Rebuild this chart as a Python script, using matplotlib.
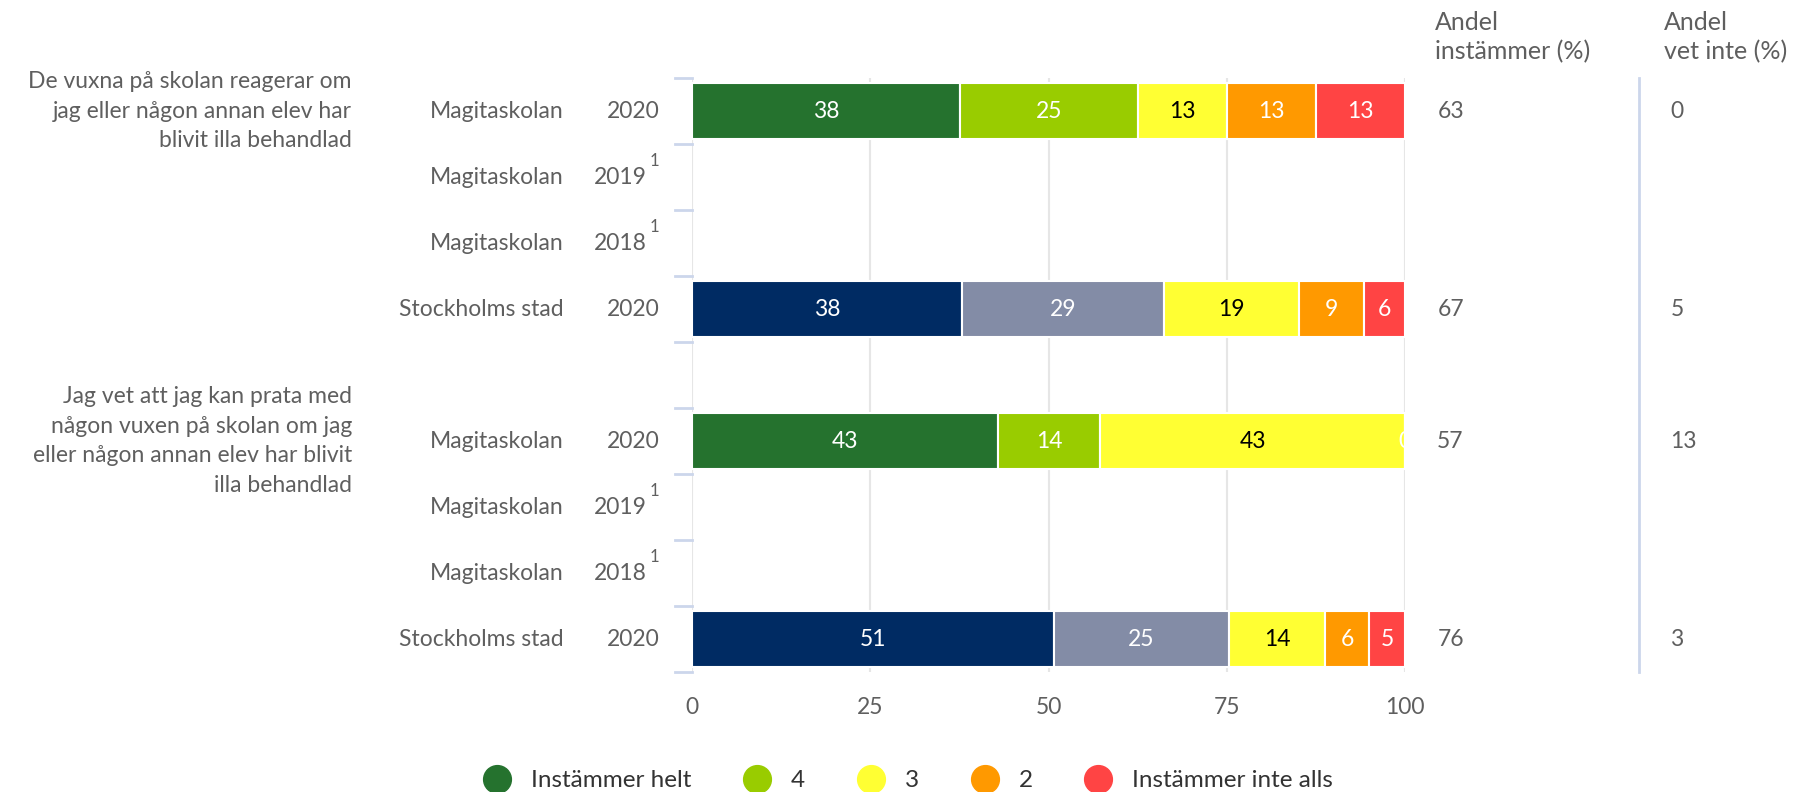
import matplotlib.pyplot as plt
from matplotlib.lines import Line2D

plt.rcParams['font.family'] = ['Lato', 'DejaVu Sans']

# Data
questions = [
    "De vuxna på skolan reagerar om\njag eller någon annan elev har\nblivit illa behandlad",
    "Jag vet att jag kan prata med\nnågon vuxen på skolan om jag\neller någon annan elev har blivit\nilla behandlad",
]
units = ["Magitaskolan", "Magitaskolan", "Magitaskolan", "Stockholms stad"]
years = ["2020", "2019", "2018", "2020"]
footnote = [False, True, True, False]

categories = ["Instämmer helt", "4", "3", "2", "Instämmer inte alls"]
school_colors = ["#25722e", "#99cc00", "#ffff33", "#ff9900", "#ff4444"]
city_colors = ["#002b63", "#838ca6", "#ffff33", "#ff9900", "#ff4444"]

q1_school_2020 = [37.5, 25.0, 12.5, 12.5, 12.5]
q1_school_2020_lbl = ["38", "25", "13", "13", "13"]
q1_city_2020 = [37.8, 28.4, 18.9, 9.1, 5.8]
q1_city_2020_lbl = ["38", "29", "19", "9", "6"]
q2_school_2020 = [42.9, 14.3, 42.8, 0.0, 0.0]
q2_school_2020_lbl = ["43", "14", "43", "0", ""]
q2_city_2020 = [50.7, 24.6, 13.5, 6.1, 5.1]
q2_city_2020_lbl = ["51", "25", "14", "6", "5"]

andel_instammer = [["63", "", "", "67"], ["57", "", "", "76"]]
andel_vet_inte = [["0", "", "", "5"], ["13", "", "", "3"]]

text_col = "#5f5f5f"
fs = 16.5

fig = plt.figure(figsize=(17.93, 7.92), dpi=100)
ax = fig.add_axes([0.386, 0.1515, 0.3977, 0.75])

bars = [
    (0, q1_school_2020, q1_school_2020_lbl, school_colors),
    (3, q1_city_2020, q1_city_2020_lbl, city_colors),
    (5, q2_school_2020, q2_school_2020_lbl, school_colors),
    (8, q2_city_2020, q2_city_2020_lbl, city_colors),
]

for y, vals, lbls, cols in bars:
    left = 0
    for v, lab, c in zip(vals, lbls, cols):
        ax.barh(y, v, left=left, height=0.86, color=c, edgecolor="white", linewidth=1.5, zorder=3)
        tc = "black" if c == "#ffff33" else "white"
        if lab:
            ax.text(left + v / 2, y, lab, ha="center", va="center", color=tc,
                    fontsize=fs, zorder=4, clip_on=True)
        left += v

ax.set_xlim(0, 100)
ax.set_ylim(8.5, -0.5)
ax.set_xticks([0, 25, 50, 75, 100])
ax.tick_params(axis="x", length=0, labelsize=fs, labelcolor=text_col, pad=18)
ax.set_yticks([])
for s in ax.spines.values():
    s.set_visible(False)
for gx in [0, 25, 50, 75, 100]:
    ax.axvline(gx, color="#e6e6e6", lw=1.5, zorder=1)

# band separators on the left
for g in range(2):
    for k in range(5):
        yb = g * 5 - 0.5 + k
        ax.plot([-2.4, 0], [yb, yb], color="#ccd6eb", lw=2, clip_on=False, zorder=2)

# row labels
for g in range(2):
    for k in range(4):
        y = g * 5 + k
        ax.text(-18.0, y, units[k], ha="right", va="center", fontsize=fs, color=text_col)
        ax.text(-6.3 if footnote[k] else -4.6, y, years[k], ha="right", va="center",
                fontsize=fs, color=text_col)
        if footnote[k]:
            ax.text(-5.9, y - 0.25, "1", ha="left", va="center", fontsize=12, color=text_col)
        ax.text(104.5, y, andel_instammer[g][k], ha="left", va="center", fontsize=fs, color=text_col)
        ax.text(137.2, y, andel_vet_inte[g][k], ha="left", va="center", fontsize=fs, color=text_col)
    ax.text(-47.7, g * 5, questions[g], ha="right", va="center",
            fontsize=fs, color=text_col, linespacing=1.5)

# divider between columns
ax.plot([132.8, 132.8], [-0.5, 8.5], color="#ccd6eb", lw=2, clip_on=False)

ax.text(104.2, -0.72, "Andel\ninstämmer (%)", ha="left", va="bottom", fontsize=18,
        color=text_col, linespacing=1.3)
ax.text(136.3, -0.72, "Andel\nvet inte (%)", ha="left", va="bottom", fontsize=18,
        color=text_col, linespacing=1.3)

handles = [Line2D([0], [0], marker="o", ls="", markersize=20, markerfacecolor=c,
                  markeredgecolor=c) for c in school_colors]
fig.legend(handles, categories, loc="center", bbox_to_anchor=(0.505, 0.014), ncol=5,
           frameon=False, fontsize=17.5, labelcolor="#333333", handletextpad=0.6,
           columnspacing=1.9, handlelength=1.6)

fig.savefig("out.png", dpi=100)
